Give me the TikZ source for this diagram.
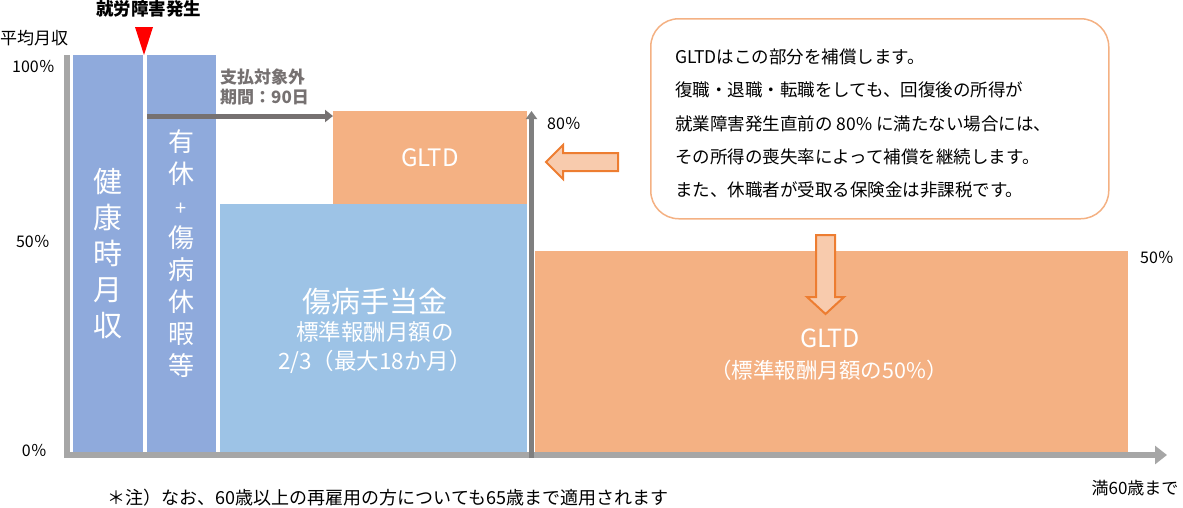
\documentclass[tikz,border=0pt]{standalone}
\usepackage{fontspec}
\setmainfont{Noto Sans CJK JP}
\usetikzlibrary{arrows.meta,positioning}
\definecolor{healthblue}{HTML}{8FAADC}
\definecolor{sickblue}{HTML}{9DC3E6}
\definecolor{gltdorange}{HTML}{F4B183}
\definecolor{arrowfill}{HTML}{F8CBAD}
\definecolor{arrowline}{HTML}{ED7D31}
\definecolor{axisgray}{HTML}{A6A6A6}
\definecolor{waitgray}{HTML}{767171}
\definecolor{limitgray}{HTML}{7F7F7F}
\newcommand{\fsz}[2]{\fontsize{#1}{#2}\selectfont}
\tikzset{
  bar/.style={inner sep=0pt, outer sep=0pt, anchor=north west, text=white, align=center},
  whitetext/.style={inner sep=0pt, text=white, align=center},
  pct/.style={inner sep=0pt, font=\fsz{16}{18}},
  blockarrow/.style={draw=arrowline, fill=arrowfill, line width=2pt, line join=miter},
}
\begin{document}
\begin{tikzpicture}[x=1pt,y=-1pt]
\useasboundingbox (0,0) rectangle (1183,507);
% Draw benefit blocks
\node[bar, fill=healthblue, minimum width=70pt, minimum height=397pt, font=\fsz{29}{36}] (health) at (73,55) {健\\康\\時\\月\\収};
\node[bar, fill=healthblue, minimum width=69pt, minimum height=397pt, font=\fsz{26}{32}] (leave) at (147,55) {有\\休\\{\fsz{20}{32}+}\\傷\\病\\休\\暇\\等};
\node[bar, fill=sickblue, minimum width=307pt, minimum height=248pt] (sick) at (220,204) {};
\node[bar, fill=gltdorange, minimum width=194pt, minimum height=93pt, font=\fsz{24}{28}] (gltdtop) at (333,111) {GLTD};
\node[bar, fill=gltdorange, minimum width=593pt, minimum height=201pt] (gltdmain) at (535,251) {};
% Block texts
\node[whitetext, font=\fsz{29}{34}] (sicktitle) at (375,302) {傷病手当金};
\node[whitetext, font=\fsz{22.5}{29}] (sicknote) at (375,347.5) {標準報酬月額の\\2/3（最大18か月）};
\node[whitetext, font=\fsz{25}{30}] (gltdtitle) at (830,338) {GLTD};
\node[whitetext, font=\fsz{21.5}{26}] (gltdnote) at (829,370) {（標準報酬月額の50\%）};
% Draw axes
\coordinate (origin) at (64,455);
\coordinate (xend) at (1167,455);
\draw[axisgray, line width=6pt] (67,458) -- (67,55);
\draw[axisgray, line width=6pt, -{Triangle[length=12pt,width=18pt]}] (origin) -- (xend);
\node[anchor=west, inner sep=0pt, font=\fsz{17}{20}] (ylabel) at (0,38) {平均月収};
\node[pct, anchor=east] (p100) at (55,67) {100％};
\node[pct, anchor=east] (p50) at (50,242) {50％};
\node[pct, anchor=east] (p0) at (47,451) {0％};
\node[inner sep=0pt, font=\fsz{17}{20}] (xlabel) at (1135,488) {満60歳まで};
% Onset marker
\fill[red] (135,27) -- (153,27) -- (144,55) -- cycle;
\node[inner sep=0pt, font=\bfseries\fsz{17.5}{20}] (onset) at (148.5,9) {就労障害発生};
% Waiting period
\node[anchor=west, align=left, inner sep=0pt, text=waitgray, font=\bfseries\fsz{17}{20}] (waiting) at (220,87) {支払対象外\\期間：90日};
\coordinate (waitstart) at (147,116);
\draw[waitgray, line width=5pt, -{Triangle[length=8pt,width=12pt]}] (waitstart) -- (waitstart -| gltdtop.west);
% 80% limit
\coordinate (limitbase) at (531.5,458);
\draw[limitgray, line width=5.5pt, -{Triangle[length=8pt,width=11pt]}] (limitbase) -- (limitbase |- gltdtop.north);
\node[pct, anchor=west] (p80) at (547,124) {80％};
\node[pct, anchor=west] (p50r) at (1140,258) {50％};
% Callout
\node[draw=gltdorange, line width=1.5pt, rounded corners=28pt, anchor=north west, minimum width=458pt, minimum height=200pt, inner sep=0pt] (note) at (650,18) {};
\node[anchor=west, align=left, inner sep=0pt, font=\fsz{17.5}{33.25}] (notetext) at (675,123.5) {GLTDはこの部分を補償します。\\復職・退職・転職をしても、回復後の所得が\\就業障害発生直前の 80\% に満たない場合には、\\その所得の喪失率によって補償を継続します。\\また、休職者が受取る保険金は非課税です。};
% Block arrows from callout
\draw[blockarrow] (618,153) -- (563,153) -- (563,145) -- (546,162) -- (563,179) -- (563,171) -- (618,171) -- cycle;
\draw[blockarrow] (816,235) -- (835,235) -- (835,297) -- (844,297) -- (825.5,314) -- (807,297) -- (816,297) -- cycle;
% Footnote
\node[inner sep=0pt, font=\fsz{18}{20}] (footnote) at (388,498) {＊注）なお、60歳以上の再雇用の方についても65歳まで適用されます};
\end{tikzpicture}
\end{document}
